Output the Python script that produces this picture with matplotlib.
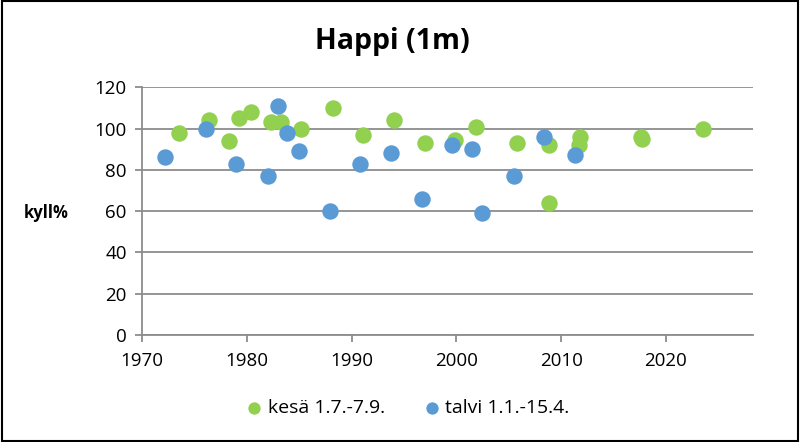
import matplotlib.pyplot as plt
from matplotlib.patches import Rectangle

# kesä 1.7.-7.9.
summer_year = [1973.5, 1976.4, 1978.3, 1979.3, 1980.4, 1982.3, 1983.3, 1985.2,
               1988.2, 1991.1, 1994.1, 1997.0, 1999.9, 2001.9, 2005.8, 2008.8,
               2008.8, 2011.8, 2011.7, 2017.6, 2017.7, 2023.5]
summer_val = [98, 104, 94, 105, 108, 103, 103, 100,
              110, 97, 104, 93, 94.5, 101, 93, 92,
              64, 96, 92, 96, 95, 100]

# talvi 1.1.-15.4.
winter_year = [1972.2, 1976.1, 1979.0, 1982.0, 1983.0, 1983.8, 1985.0, 1987.9,
               1990.8, 1993.8, 1996.7, 1999.6, 2001.5, 2002.5, 2005.5, 2008.4,
               2011.3]
winter_val = [86, 100, 83, 77, 111, 98, 89, 60,
              83, 88, 66, 92, 90, 59, 77, 96,
              87]

plt.rcParams["font.family"] = ["Open Sans", "DejaVu Sans"]

fig = plt.figure(figsize=(8, 4.42), dpi=100)
ax = fig.add_axes([0.1775, 0.242, 0.941 - 0.1775, 0.8025 - 0.242])

ax.scatter(summer_year, summer_val, s=140, color="#92D050", label="kesä 1.7.-7.9.",
           linewidths=0, zorder=3)
ax.scatter(winter_year, winter_val, s=140, color="#5B9BD5", label="talvi 1.1.-15.4.",
           linewidths=0, zorder=3)

ax.set_xlim(1970, 2028.3)
ax.set_ylim(0, 120)
ax.set_xticks(range(1970, 2021, 10))
ax.set_yticks(range(0, 121, 20))
ax.grid(axis="y", color="#8c8c8c", linewidth=1.3, zorder=0)
for side in ["top", "right"]:
    ax.spines[side].set_visible(False)
for side in ["left", "bottom"]:
    ax.spines[side].set_color("#8c8c8c")
    ax.spines[side].set_linewidth(1.3)
ax.tick_params(axis="both", colors="#8c8c8c", labelcolor="black", labelsize=13.5,
               length=5, width=1.3)
ax.tick_params(axis="x", pad=7)
ax.tick_params(axis="y", pad=6)

fig.text(0.49, 0.905, "Happi (1m)", ha="center", va="center", fontsize=20.5,
         fontweight="bold")
fig.text(0.058, 0.518, "kyll%", ha="center", va="center", fontsize=12,
         fontweight="bold")

fig.legend(loc="center", bbox_to_anchor=(0.51, 0.077), ncol=2, frameon=False,
           fontsize=14, markerscale=0.75, handlelength=0.8, handletextpad=0.3,
           columnspacing=2.0)

fig.add_artist(Rectangle((0.002, 0.003), 0.995, 0.994, transform=fig.transFigure,
                         fill=False, edgecolor="black", linewidth=1.5))

fig.savefig("out.png", dpi=100)
